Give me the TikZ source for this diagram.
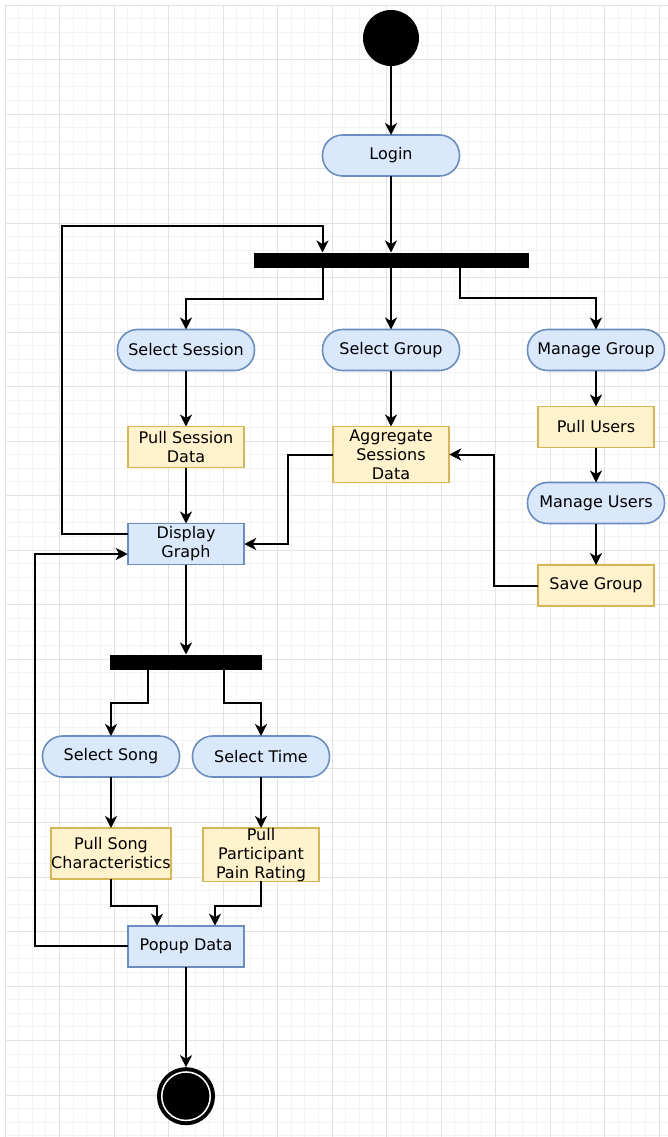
\documentclass[tikz,border=0pt]{standalone}
\usepackage{fontspec}
\setmainfont{DejaVu Sans}
\usetikzlibrary{positioning, arrows.meta}
\definecolor{actfill}{HTML}{DAE8FC}
\definecolor{actdraw}{HTML}{6C8EBF}
\definecolor{datfill}{HTML}{FFF2CC}
\definecolor{datdraw}{HTML}{D6B656}
\definecolor{gridmin}{HTML}{F3F3F3}
\definecolor{gridmaj}{HTML}{E2E2E2}

\begin{document}
\begin{tikzpicture}[
    x=1pt, y=-1pt,
    font=\fontsize{16pt}{19pt}\selectfont,
    action/.style={rectangle, rounded corners=20pt, draw=actdraw, fill=actfill,
                   line width=1.6pt, minimum width=137pt, minimum height=41pt,
                   inner sep=0pt, outer sep=0pt, align=center},
    screen/.style={rectangle, draw=actdraw, fill=actfill, line width=1.6pt,
                   minimum width=116.5pt, minimum height=41pt,
                   inner sep=0pt, outer sep=0pt, align=center},
    datbox/.style={screen, draw=datdraw, fill=datfill},
    forkbar/.style={rectangle, fill=black, minimum height=15pt, inner sep=0pt, outer sep=0pt},
    initstate/.style={circle, fill=black, minimum size=56pt, inner sep=0pt, outer sep=0pt},
    finalstate/.style={circle, fill=black, draw=black, double=white,
                       double distance=1.5pt, line width=4pt, minimum size=48.5pt,
                       inner sep=0pt, outer sep=4.75pt},
    arrow/.style={-{Stealth[length=12pt, width=12pt, inset=3.5pt]}, line width=2pt},
    gridline/.style={line width=0.8pt}
]
% --- Fondo cuadriculado ---
\useasboundingbox (0,0) rectangle (668,1137);
\fill[white] (0,0) rectangle (668,1137);
\foreach \i in {0,...,48}
    \draw[gridline, gridmin] ({5+13.625*\i},5) -- ({5+13.625*\i},1137);
\foreach \j in {0,...,83}
    \draw[gridline, gridmin] (5,{5+13.625*\j}) -- (668,{5+13.625*\j});
\foreach \i in {0,...,12}
    \draw[gridline, gridmaj] ({5+54.5*\i},5) -- ({5+54.5*\i},1137);
\foreach \j in {0,...,20}
    \draw[gridline, gridmaj] (5,{5+54.5*\j}) -- (668,{5+54.5*\j});
% --- Inicio ---
\node[initstate] (start) at (391,38) {};
\node[action, below=69pt of start] (login) {Login};
\node[forkbar, minimum width=275pt, below=76.5pt of login] (fork1) {};
% --- Ramas ---
\node[action, below=62pt of fork1] (selgroup) {Select Group};
\node[action, left=68pt of selgroup] (selsession) {Select Session};
\node[action, right=68pt of selgroup] (mangroup) {Manage Group};
\node[datbox, below=56pt of selsession] (pullsession) {Pull Session\\Data};
\node[datbox, below=56pt of selgroup, minimum height=56pt] (aggregate) {Aggregate\\Sessions\\Data};
\node[datbox, below=36pt of mangroup] (pullusers) {Pull Users};
\node[action, below=35pt of pullusers] (manusers) {Manage Users};
\node[datbox, below=41.5pt of manusers] (savegroup) {Save Group};
\node[screen, below=56pt of pullsession] (display) {Display\\Graph};
% --- Grafico ---
\node[forkbar, minimum width=152pt, below=90pt of display] (fork2) {};
\node[action, below=66.5pt of fork2, xshift=-75pt] (selsong) {Select Song};
\node[action, below=66.5pt of fork2, xshift=75pt] (seltime) {Select Time};
\node[datbox, below=51pt of selsong, minimum height=50.7pt] (pullsong) {Pull Song\\Characteristics};
\node[datbox, below=51pt of seltime, minimum height=50.7pt] (pullpain) {Pull\\Participant\\Pain Rating};
\node[screen, anchor=north, yshift=-47pt] (popup) at (display |- pullsong.south) {Popup Data};
\node[finalstate, below=100.5pt of popup] (stop) {};
% --- Flechas ---
\foreach \a/\b in {start/login, login/fork1, fork1/selgroup,
                   selsession/pullsession, selgroup/aggregate,
                   mangroup/pullusers, pullusers/manusers, manusers/savegroup,
                   pullsession/display, display/fork2,
                   selsong/pullsong, seltime/pullpain, popup/stop}
    \draw[arrow] (\a) -- (\b);
\draw[arrow] (fork1.south -| selgroup.west) -- ++(0,31) -| (selsession);
\draw[arrow] (fork1.south -| selgroup.east) -- ++(0,30) -| (mangroup);
\draw[arrow] (aggregate.west) -- ++(-45,0) |- (display.east);
\draw[arrow] (savegroup.west) -- ++(-44,0) |- (aggregate.east);
\draw[arrow] ([yshift=10pt]display.west) -- ++(-66,0) -- ++(0,-308) -| (fork1.north -| selgroup.west);
\draw[arrow] ([xshift=-38pt]fork2.south) -- ++(0,33) -| (selsong);
\draw[arrow] ([xshift=38pt]fork2.south) -- ++(0,33) -| (seltime);
\draw[arrow] (pullsong.south) -- ++(0,27) -| ([xshift=-29pt]popup.north);
\draw[arrow] (pullpain.south) -- ++(0,25) -| ([xshift=29pt]popup.north);
\draw[arrow] (popup.west) -- ++(-93,0) |- ([yshift=-10pt]display.west);
\end{tikzpicture}
\end{document}
